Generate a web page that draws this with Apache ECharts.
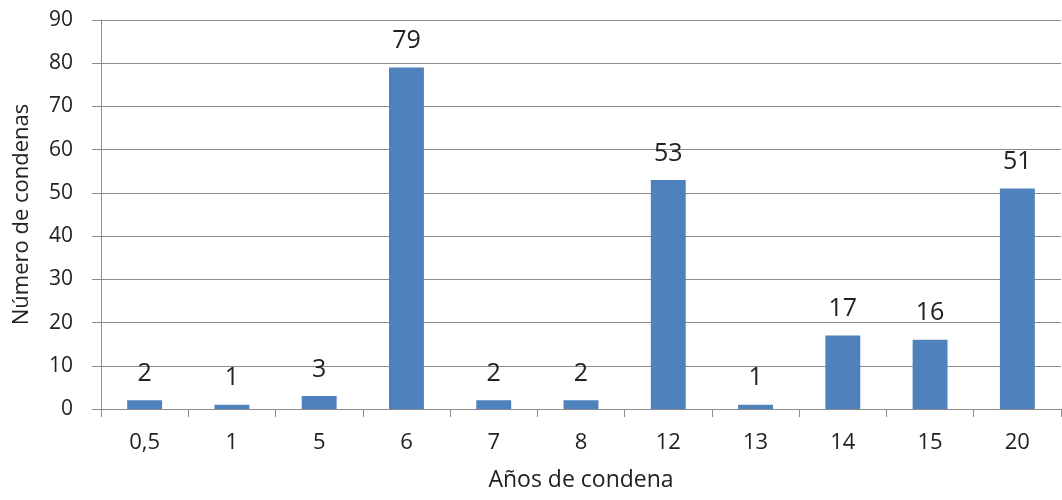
<!DOCTYPE html>
<html>
<head>
<meta charset="utf-8">
<script src="https://cdn.jsdelivr.net/npm/echarts@6/dist/echarts.min.js"></script>
<style>
  html, body { margin: 0; padding: 0; background: #fff; }
  #main { width: 1062px; height: 500px; }
</style>
</head>
<body>
<div id="main"></div>
<script>
// años de condena / número de condenas
const categories = ["0,5", "1", "5", "6", "7", "8", "12", "13", "14", "15", "20"];
const values = [2, 1, 3, 79, 2, 2, 53, 1, 17, 16, 51];
const yTicks = { min: 0, max: 90, interval: 10 };

const barColor = "#4F81BD";
const textColor = "#222";
const lineColor = "#8c8c8c";
const font = "Open Sans";

const myChart = echarts.init(document.getElementById("main"));

const option = {
  animation: false,
  textStyle: { fontFamily: font },
  grid: {
    left: 101,
    right: 1,
    top: 20,
    bottom: 91,
    containLabel: false,
    outerBoundsMode: "none"
  },
  xAxis: {
    type: "category",
    data: categories,
    name: "Años de condena",
    nameLocation: "middle",
    nameGap: 60,
    nameTextStyle: { color: textColor, fontSize: 23, fontFamily: font },
    axisLine: { lineStyle: { color: lineColor, width: 1 } },
    axisTick: { show: true, length: 8, alignWithLabel: false, lineStyle: { color: lineColor } },
    axisLabel: { color: textColor, fontSize: 22, margin: 23, fontFamily: font }
  },
  yAxis: {
    type: "value",
    min: yTicks.min,
    max: yTicks.max,
    interval: yTicks.interval,
    name: "Número de condenas",
    nameLocation: "middle",
    nameGap: 68,
    nameTextStyle: { color: textColor, fontSize: 22, fontFamily: font },
    axisLine: { show: true, lineStyle: { color: lineColor, width: 1 } },
    axisTick: { show: true, length: 9, lineStyle: { color: lineColor } },
    axisLabel: { color: textColor, fontSize: 21, margin: 28, fontFamily: font },
    splitLine: { show: true, lineStyle: { color: lineColor, width: 1 } }
  },
  series: [{
    type: "bar",
    data: values,
    barWidth: "40%",
    itemStyle: { color: barColor },
    label: {
      show: true,
      position: "top",
      distance: 14,
      color: textColor,
      fontSize: 25,
      fontFamily: font
    }
  }]
};

myChart.setOption(option);
window.addEventListener("resize", function () {
  myChart.resize();
});
</script>
</body>
</html>
